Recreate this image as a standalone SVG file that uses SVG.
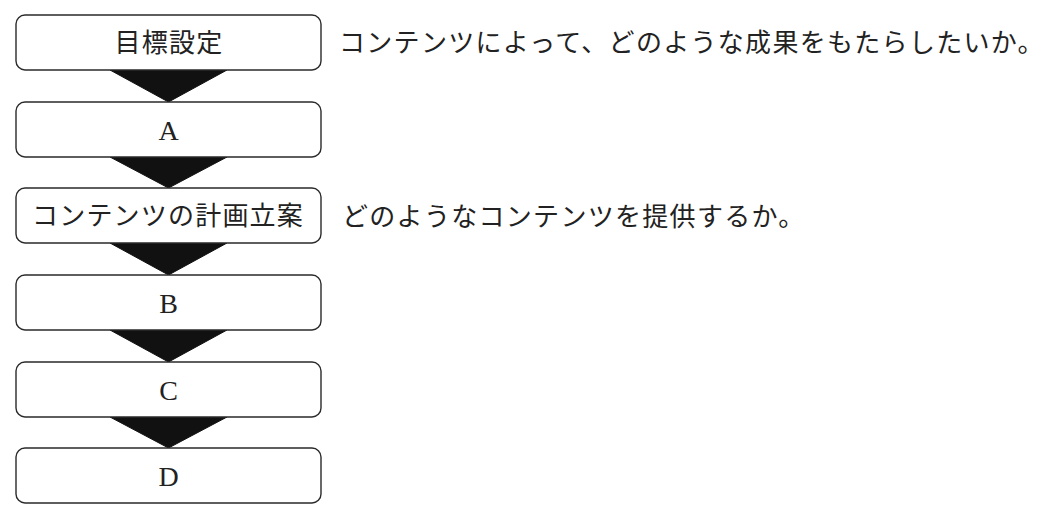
<svg xmlns="http://www.w3.org/2000/svg" width="1052" height="512" viewBox="0 0 1052 512">
<style>
.box{fill:#fff;stroke:#2a2a2a;stroke-width:1.4}
.lbl{font-family:"Liberation Serif","Noto Sans CJK JP",serif;font-size:26px;fill:#222;text-anchor:middle;letter-spacing:1.2px}
.lat{font-family:"Liberation Serif","Noto Sans CJK JP",serif;font-size:28px;fill:#222;text-anchor:middle}
.note{font-family:"Liberation Serif","Noto Sans CJK JP",serif;font-size:26px;fill:#222;letter-spacing:1.3px}
.arr{fill:#111;stroke:#111;stroke-width:1;stroke-linejoin:round}
</style>
<rect width="1052" height="512" fill="#fff"/>
<g id="connectors">
<polygon class="arr" points="110,70 227,70 168.5,102"/>
<polygon class="arr" points="110,157 227,157 168.5,188"/>
<polygon class="arr" points="110,243 227,243 168.5,275"/>
<polygon class="arr" points="110,330 227,330 168.5,362"/>
<polygon class="arr" points="110,417 227,417 168.5,448"/>
</g>
<g id="n1"><rect class="box" x="16" y="15" width="305" height="55" rx="9"/><text class="lbl" x="169" y="52">目標設定</text></g>
<g id="nA"><rect class="box" x="16" y="102" width="305" height="55" rx="9"/><text class="lat" x="168.5" y="140">A</text></g>
<g id="n3"><rect class="box" x="16" y="188" width="305" height="55" rx="9"/><text class="lbl" x="168" y="225">コンテンツの計画立案</text></g>
<g id="nB"><rect class="box" x="16" y="275" width="305" height="55" rx="9"/><text class="lat" x="168.5" y="313">B</text></g>
<g id="nC"><rect class="box" x="16" y="362" width="305" height="55" rx="9"/><text class="lat" x="168.5" y="400">C</text></g>
<g id="nD"><rect class="box" x="16" y="448" width="305" height="55" rx="9"/><text class="lat" x="168.5" y="486">D</text></g>
<g id="notes">
<text class="note" x="339" y="52">コンテンツによって、どのような成果をもたらしたいか。</text>
<text class="note" x="342" y="226">どのようなコンテンツを提供するか。</text>
</g>
</svg>
